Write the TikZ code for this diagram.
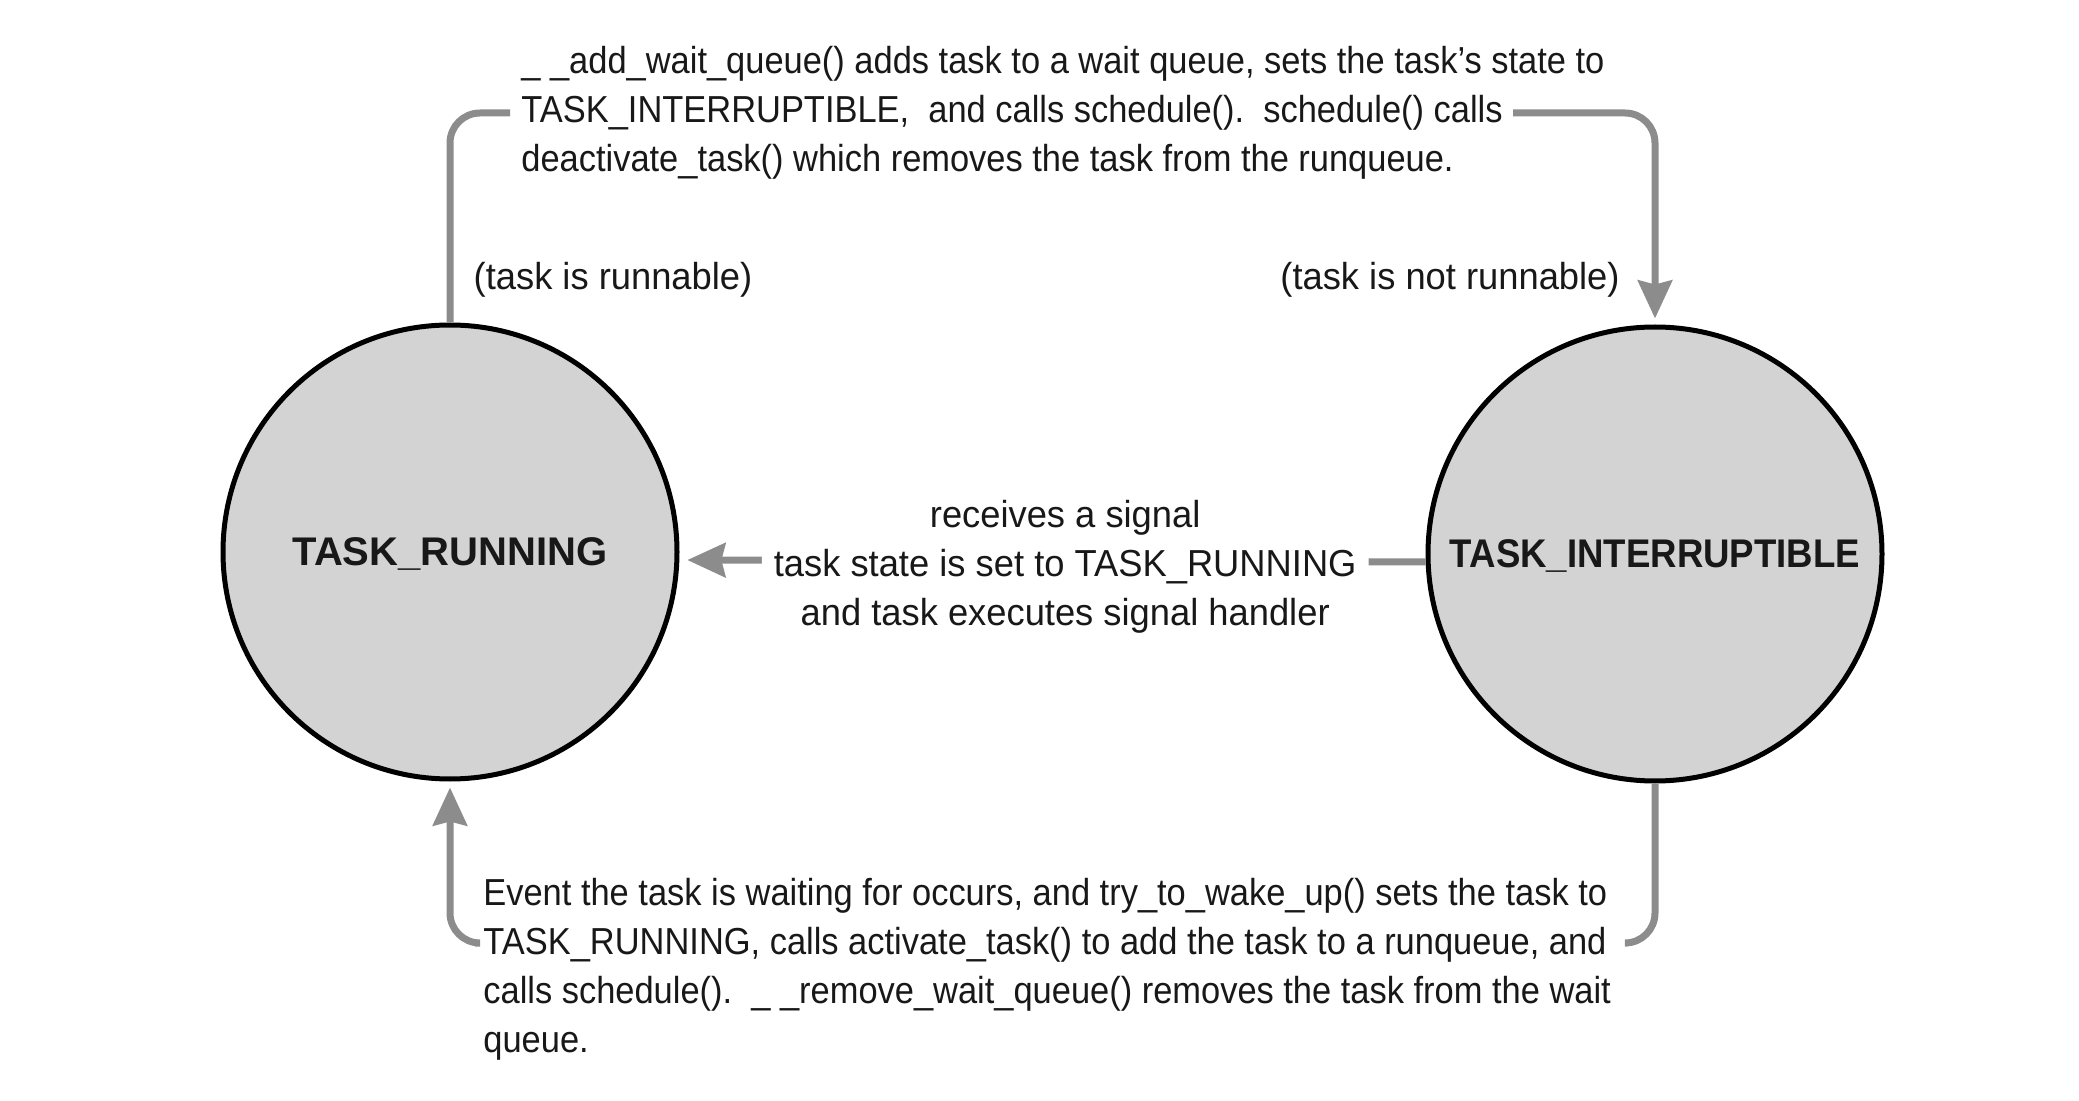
\documentclass[tikz,border=0pt]{standalone}
\usepackage{fontspec}
\setmainfont{Liberation Sans}[FakeStretch=0.916]
\newfontfamily\widesans{Liberation Sans}
\newfontfamily\narrowsans{Liberation Sans}[FakeStretch=0.915]
\newfontfamily\midsans{Liberation Sans}[FakeStretch=0.966]
\usetikzlibrary{arrows.meta}
\definecolor{conngray}{RGB}{140,140,140}
\definecolor{statefill}{RGB}{211,211,211}
\definecolor{ink}{RGB}{24,24,24}
\begin{document}
\begin{tikzpicture}[x=0.5pt,y=-0.5pt,
  state/.style={circle, draw=black, line width=2.5pt, fill=statefill, minimum size=227pt, inner sep=0pt, text depth=0pt, text=ink},
  conn/.style={draw=conngray, line width=3.5pt, rounded corners=15pt},
  tip/.style={-{Stealth[length=19pt,width=17pt,inset=2pt]}},
  lbl/.style={font=\fontsize{18.8}{24.5}\selectfont, text=ink, inner sep=0pt},
  widelbl/.style={lbl, font=\midsans\fontsize{18.8}{24.5}\selectfont},
]
\useasboundingbox (0,0) rectangle (2079,1101);

\node[state, font=\widesans\fontsize{20}{24}\selectfont\bfseries] (run) at (450,552) {TASK\_RUNNING};
\node[state, font=\narrowsans\fontsize{20}{24}\selectfont\bfseries] (intr) at (1655,554) {TASK\_INTERRUPTIBLE};

\node[lbl, anchor=west, align=left] (top) at (521,113) {\_ \_add\_wait\_queue() adds task to a wait queue, sets the task’s state to\\TASK\_INTERRUPTIBLE,\ \ and calls schedule().\ \ schedule() calls\\deactivate\_task() which removes the task from the runqueue.};
\node[lbl, anchor=west, align=left] (bot) at (483,969) {Event the task is waiting for occurs, and try\_to\_wake\_up() sets the task to\\TASK\_RUNNING, calls activate\_task() to add the task to a runqueue, and\\calls schedule().\ \ \_ \_remove\_wait\_queue() removes the task from the wait\\queue.};
\node[widelbl] (runnable) at (613,280) {(task is runnable)};
\node[widelbl] (notrunnable) at (1450,280) {(task is not runnable)};

\coordinate (tl) at (510,113);
\coordinate (tr) at (1513,113);
\coordinate (br) at (1627,943);
\coordinate (bl) at (475,943);

\draw[conn] (run.north) |- (tl);
\draw[conn, tip, shorten >=3pt] (tr) -| (intr.north);
\draw[conn] (intr.south) |- (br);
\draw[conn, tip, shorten >=3pt] (bl) -| (run.south);
\draw[conn, tip, shorten >=4pt] (intr.182) -- node[widelbl, pos=0.483, yshift=-3pt, fill=white, inner xsep=6pt, align=center] (mid) {receives a signal\\task state is set to TASK\_RUNNING\\and task executes signal handler} (run.-2.5);
\end{tikzpicture}
\end{document}
